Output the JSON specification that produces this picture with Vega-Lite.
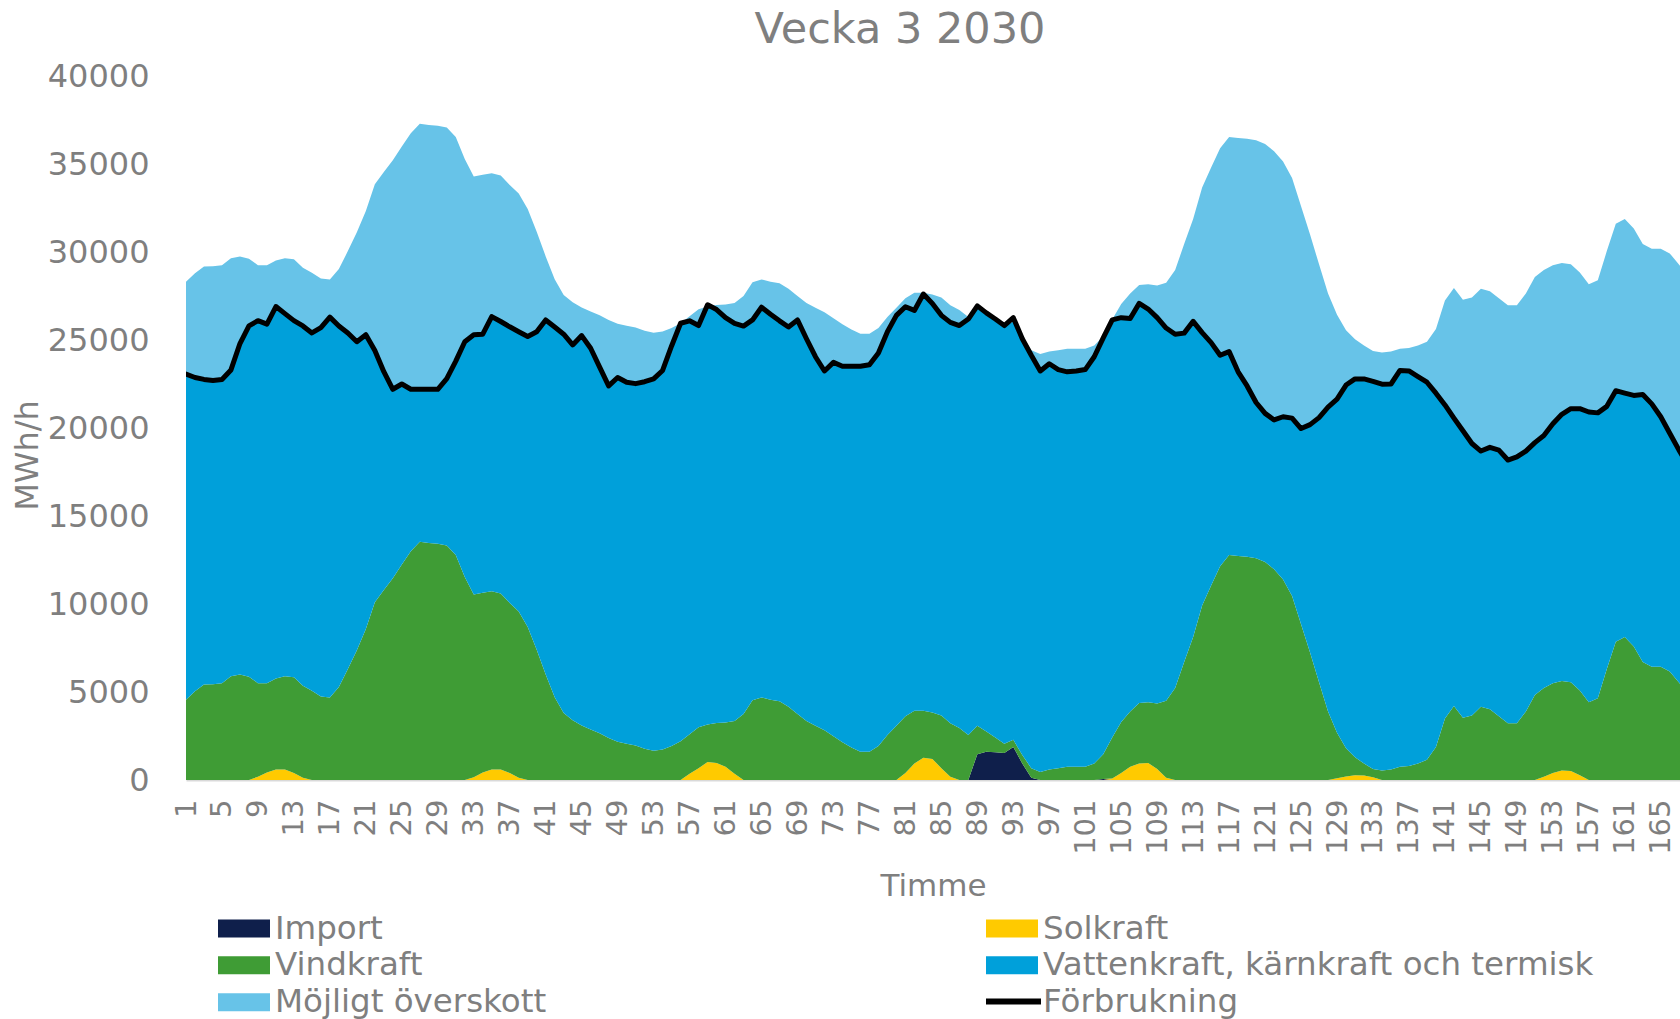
{
  "$schema": "https://vega.github.io/schema/vega-lite/v6.json",
  "autosize": {"type": "none"},
  "padding": {"left": 186, "top": 76, "right": 0, "bottom": 239},
  "width": 1494,
  "height": 704,
  "background": "white",
  "title": {"text": "Vecka 3 2030", "fontSize": 43, "font": "DejaVu Sans", "fontWeight": "normal", "color": "#7F7F7F", "anchor": "middle", "dx": -33, "offset": 8},
  "datasets": {
    "serier": [
      {"kod": "imp", "namn": "Import", "ordning": 1},
      {"kod": "sol", "namn": "Solkraft", "ordning": 2},
      {"kod": "vind", "namn": "Vindkraft", "ordning": 3},
      {"kod": "vatten", "namn": "Vattenkraft, kärnkraft och termisk", "ordning": 4},
      {"kod": "over", "namn": "Möjligt överskott", "ordning": 5}
    ],
    "timmar": [
      {"t":1,"imp":0,"sol":0,"vind":4560,"vatten":18500,"over":5250,"forb":23060},
      {"t":2,"imp":0,"sol":0,"vind":5040,"vatten":17830,"over":5920,"forb":22870},
      {"t":3,"imp":0,"sol":0,"vind":5420,"vatten":17340,"over":6410,"forb":22760},
      {"t":4,"imp":0,"sol":0,"vind":5440,"vatten":17260,"over":6490,"forb":22700},
      {"t":5,"imp":0,"sol":0,"vind":5500,"vatten":17260,"over":6490,"forb":22760},
      {"t":6,"imp":0,"sol":0,"vind":5900,"vatten":17400,"over":6350,"forb":23300},
      {"t":7,"imp":0,"sol":0,"vind":6000,"vatten":18800,"over":4950,"forb":24800},
      {"t":8,"imp":0,"sol":0,"vind":5870,"vatten":19930,"over":3820,"forb":25800},
      {"t":9,"imp":0,"sol":190,"vind":5310,"vatten":20600,"over":3150,"forb":26100},
      {"t":10,"imp":0,"sol":430,"vind":5070,"vatten":20400,"over":3350,"forb":25900},
      {"t":11,"imp":0,"sol":590,"vind":5170,"vatten":21140,"over":2610,"forb":26900},
      {"t":12,"imp":0,"sol":590,"vind":5310,"vatten":20600,"over":3150,"forb":26500},
      {"t":13,"imp":0,"sol":400,"vind":5440,"vatten":20260,"over":3490,"forb":26100},
      {"t":14,"imp":0,"sol":130,"vind":5230,"vatten":20440,"over":3310,"forb":25800},
      {"t":15,"imp":0,"sol":0,"vind":5070,"vatten":20330,"over":3420,"forb":25400},
      {"t":16,"imp":0,"sol":0,"vind":4750,"vatten":20950,"over":2800,"forb":25700},
      {"t":17,"imp":0,"sol":0,"vind":4690,"vatten":21610,"over":2140,"forb":26300},
      {"t":18,"imp":0,"sol":0,"vind":5280,"vatten":20520,"over":3230,"forb":25800},
      {"t":19,"imp":0,"sol":0,"vind":6300,"vatten":19100,"over":4650,"forb":25400},
      {"t":20,"imp":0,"sol":0,"vind":7370,"vatten":17530,"over":6220,"forb":24900},
      {"t":21,"imp":0,"sol":0,"vind":8580,"vatten":16720,"over":7030,"forb":25300},
      {"t":22,"imp":0,"sol":0,"vind":10100,"vatten":14300,"over":9450,"forb":24400},
      {"t":23,"imp":0,"sol":0,"vind":10800,"vatten":12400,"over":11350,"forb":23200},
      {"t":24,"imp":0,"sol":0,"vind":11470,"vatten":10730,"over":13020,"forb":22200},
      {"t":25,"imp":0,"sol":0,"vind":12250,"vatten":10250,"over":13500,"forb":22500},
      {"t":26,"imp":0,"sol":0,"vind":13000,"vatten":9200,"over":14550,"forb":22200},
      {"t":27,"imp":0,"sol":0,"vind":13540,"vatten":8660,"over":15090,"forb":22200},
      {"t":28,"imp":0,"sol":0,"vind":13460,"vatten":8740,"over":15010,"forb":22200},
      {"t":29,"imp":0,"sol":0,"vind":13430,"vatten":8770,"over":14980,"forb":22200},
      {"t":30,"imp":0,"sol":0,"vind":13320,"vatten":9480,"over":14270,"forb":22800},
      {"t":31,"imp":0,"sol":0,"vind":12790,"vatten":11010,"over":12740,"forb":23800},
      {"t":32,"imp":0,"sol":0,"vind":11530,"vatten":13370,"over":10380,"forb":24900},
      {"t":33,"imp":0,"sol":150,"vind":10390,"vatten":14760,"over":8990,"forb":25300},
      {"t":34,"imp":0,"sol":430,"vind":10210,"vatten":14690,"over":9060,"forb":25330},
      {"t":35,"imp":0,"sol":590,"vind":10130,"vatten":15610,"over":8140,"forb":26330},
      {"t":36,"imp":0,"sol":590,"vind":10000,"vatten":15460,"over":8290,"forb":26050},
      {"t":37,"imp":0,"sol":400,"vind":9650,"vatten":15700,"over":8050,"forb":25750},
      {"t":38,"imp":0,"sol":130,"vind":9440,"vatten":15900,"over":7850,"forb":25470},
      {"t":39,"imp":0,"sol":0,"vind":8700,"vatten":16500,"over":7250,"forb":25200},
      {"t":40,"imp":0,"sol":0,"vind":7400,"vatten":18070,"over":5680,"forb":25470},
      {"t":41,"imp":0,"sol":0,"vind":6000,"vatten":20140,"over":3610,"forb":26140},
      {"t":42,"imp":0,"sol":0,"vind":4700,"vatten":21040,"over":2710,"forb":25740},
      {"t":43,"imp":0,"sol":0,"vind":3800,"vatten":21530,"over":2220,"forb":25330},
      {"t":44,"imp":0,"sol":0,"vind":3400,"vatten":21320,"over":2430,"forb":24720},
      {"t":45,"imp":0,"sol":0,"vind":3100,"vatten":22150,"over":1600,"forb":25250},
      {"t":46,"imp":0,"sol":0,"vind":2870,"vatten":21660,"over":2090,"forb":24530},
      {"t":47,"imp":0,"sol":0,"vind":2650,"vatten":20810,"over":2940,"forb":23460},
      {"t":48,"imp":0,"sol":0,"vind":2390,"vatten":20000,"over":3750,"forb":22390},
      {"t":49,"imp":0,"sol":0,"vind":2170,"vatten":20700,"over":3050,"forb":22870},
      {"t":50,"imp":0,"sol":0,"vind":2060,"vatten":20540,"over":3210,"forb":22600},
      {"t":51,"imp":0,"sol":0,"vind":1960,"vatten":20560,"over":3190,"forb":22520},
      {"t":52,"imp":0,"sol":0,"vind":1770,"vatten":20860,"over":2890,"forb":22630},
      {"t":53,"imp":0,"sol":0,"vind":1660,"vatten":21130,"over":2620,"forb":22790},
      {"t":54,"imp":0,"sol":0,"vind":1740,"vatten":21530,"over":2220,"forb":23270},
      {"t":55,"imp":0,"sol":0,"vind":1930,"vatten":22730,"over":1020,"forb":24660},
      {"t":56,"imp":0,"sol":0,"vind":2200,"vatten":23750,"over":0,"forb":25950},
      {"t":57,"imp":0,"sol":350,"vind":2250,"vatten":23490,"over":260,"forb":26090},
      {"t":58,"imp":0,"sol":670,"vind":2330,"vatten":22820,"over":930,"forb":25820},
      {"t":59,"imp":0,"sol":1020,"vind":2140,"vatten":23750,"over":0,"forb":27000},
      {"t":60,"imp":0,"sol":970,"vind":2270,"vatten":23490,"over":260,"forb":26730},
      {"t":61,"imp":0,"sol":750,"vind":2520,"vatten":23000,"over":750,"forb":26270},
      {"t":62,"imp":0,"sol":350,"vind":3000,"vatten":22600,"over":1150,"forb":25950},
      {"t":63,"imp":0,"sol":0,"vind":3750,"vatten":22040,"over":1710,"forb":25790},
      {"t":64,"imp":0,"sol":0,"vind":4530,"vatten":21610,"over":2140,"forb":26140},
      {"t":65,"imp":0,"sol":0,"vind":4690,"vatten":22170,"over":1580,"forb":26860},
      {"t":66,"imp":0,"sol":0,"vind":4560,"vatten":21900,"over":1850,"forb":26460},
      {"t":67,"imp":0,"sol":0,"vind":4480,"vatten":21610,"over":2140,"forb":26090},
      {"t":68,"imp":0,"sol":0,"vind":4160,"vatten":21580,"over":2170,"forb":25740},
      {"t":69,"imp":0,"sol":0,"vind":3750,"vatten":22390,"over":1360,"forb":26140},
      {"t":70,"imp":0,"sol":0,"vind":3350,"vatten":21720,"over":2030,"forb":25070},
      {"t":71,"imp":0,"sol":0,"vind":3080,"vatten":20970,"over":2780,"forb":24050},
      {"t":72,"imp":0,"sol":0,"vind":2820,"vatten":20420,"over":3330,"forb":23240},
      {"t":73,"imp":0,"sol":0,"vind":2490,"vatten":21240,"over":2510,"forb":23730},
      {"t":74,"imp":0,"sol":0,"vind":2140,"vatten":21370,"over":2380,"forb":23510},
      {"t":75,"imp":0,"sol":0,"vind":1850,"vatten":21660,"over":2090,"forb":23510},
      {"t":76,"imp":0,"sol":0,"vind":1610,"vatten":21900,"over":1850,"forb":23510},
      {"t":77,"imp":0,"sol":0,"vind":1610,"vatten":21980,"over":1770,"forb":23590},
      {"t":78,"imp":0,"sol":0,"vind":1930,"vatten":22330,"over":1420,"forb":24260},
      {"t":79,"imp":0,"sol":0,"vind":2550,"vatten":22920,"over":830,"forb":25470},
      {"t":80,"imp":0,"sol":0,"vind":3080,"vatten":23320,"over":430,"forb":26400},
      {"t":81,"imp":0,"sol":400,"vind":3220,"vatten":23270,"over":480,"forb":26890},
      {"t":82,"imp":0,"sol":940,"vind":3000,"vatten":22740,"over":1010,"forb":26680},
      {"t":83,"imp":0,"sol":1260,"vind":2680,"vatten":23670,"over":80,"forb":27610},
      {"t":84,"imp":0,"sol":1200,"vind":2630,"vatten":23250,"over":500,"forb":27080},
      {"t":85,"imp":0,"sol":670,"vind":3000,"vatten":22730,"over":1020,"forb":26400},
      {"t":86,"imp":0,"sol":190,"vind":3030,"vatten":22780,"over":970,"forb":26000},
      {"t":87,"imp":0,"sol":0,"vind":2950,"vatten":22870,"over":880,"forb":25820},
      {"t":88,"imp":0,"sol":0,"vind":2550,"vatten":23640,"over":110,"forb":26190},
      {"t":89,"imp":1470,"sol":0,"vind":1610,"vatten":23750,"over":0,"forb":26940},
      {"t":90,"imp":1600,"sol":0,"vind":1160,"vatten":23750,"over":0,"forb":26540},
      {"t":91,"imp":1580,"sol":0,"vind":830,"vatten":23750,"over":0,"forb":26190},
      {"t":92,"imp":1530,"sol":0,"vind":530,"vatten":23750,"over":0,"forb":25820},
      {"t":93,"imp":1880,"sol":0,"vind":400,"vatten":23750,"over":0,"forb":26270},
      {"t":94,"imp":940,"sol":0,"vind":480,"vatten":23650,"over":100,"forb":25070},
      {"t":95,"imp":130,"sol":0,"vind":540,"vatten":23460,"over":290,"forb":24130},
      {"t":96,"imp":0,"sol":0,"vind":460,"vatten":22780,"over":970,"forb":23240},
      {"t":97,"imp":0,"sol":0,"vind":590,"vatten":23060,"over":690,"forb":23650},
      {"t":98,"imp":0,"sol":0,"vind":670,"vatten":22650,"over":1100,"forb":23320},
      {"t":99,"imp":0,"sol":0,"vind":750,"vatten":22440,"over":1310,"forb":23190},
      {"t":100,"imp":0,"sol":0,"vind":750,"vatten":22490,"over":1260,"forb":23240},
      {"t":101,"imp":0,"sol":0,"vind":750,"vatten":22570,"over":1180,"forb":23320},
      {"t":102,"imp":0,"sol":0,"vind":940,"vatten":23110,"over":640,"forb":24050},
      {"t":103,"imp":60,"sol":0,"vind":1410,"vatten":23650,"over":100,"forb":25120},
      {"t":104,"imp":0,"sol":80,"vind":2330,"vatten":23730,"over":20,"forb":26140},
      {"t":105,"imp":0,"sol":400,"vind":2900,"vatten":22970,"over":780,"forb":26270},
      {"t":106,"imp":0,"sol":750,"vind":3140,"vatten":22330,"over":1420,"forb":26220},
      {"t":107,"imp":0,"sol":940,"vind":3430,"vatten":22710,"over":1040,"forb":27080},
      {"t":108,"imp":0,"sol":970,"vind":3450,"vatten":22340,"over":1410,"forb":26760},
      {"t":109,"imp":0,"sol":620,"vind":3720,"vatten":21930,"over":1820,"forb":26270},
      {"t":110,"imp":0,"sol":130,"vind":4370,"vatten":21180,"over":2570,"forb":25680},
      {"t":111,"imp":0,"sol":0,"vind":5230,"vatten":20100,"over":3650,"forb":25330},
      {"t":112,"imp":0,"sol":0,"vind":6700,"vatten":18690,"over":5060,"forb":25390},
      {"t":113,"imp":0,"sol":0,"vind":8120,"vatten":17940,"over":5810,"forb":26060},
      {"t":114,"imp":0,"sol":0,"vind":9920,"vatten":15500,"over":8250,"forb":25420},
      {"t":115,"imp":0,"sol":0,"vind":11050,"vatten":13800,"over":9950,"forb":24850},
      {"t":116,"imp":0,"sol":0,"vind":12140,"vatten":11990,"over":11760,"forb":24130},
      {"t":117,"imp":0,"sol":0,"vind":12790,"vatten":11550,"over":12200,"forb":24340},
      {"t":118,"imp":0,"sol":0,"vind":12730,"vatten":10460,"over":13290,"forb":23190},
      {"t":119,"imp":0,"sol":0,"vind":12680,"vatten":9710,"over":14040,"forb":22390},
      {"t":120,"imp":0,"sol":0,"vind":12600,"vatten":8850,"over":14900,"forb":21450},
      {"t":121,"imp":0,"sol":0,"vind":12390,"vatten":8440,"over":15310,"forb":20830},
      {"t":122,"imp":0,"sol":0,"vind":11980,"vatten":8480,"over":15270,"forb":20460},
      {"t":123,"imp":0,"sol":0,"vind":11390,"vatten":9250,"over":14500,"forb":20640},
      {"t":124,"imp":0,"sol":0,"vind":10460,"vatten":10100,"over":13650,"forb":20560},
      {"t":125,"imp":0,"sol":0,"vind":8850,"vatten":11120,"over":12630,"forb":19970},
      {"t":126,"imp":0,"sol":0,"vind":7240,"vatten":12950,"over":10800,"forb":20190},
      {"t":127,"imp":0,"sol":0,"vind":5550,"vatten":15040,"over":8710,"forb":20590},
      {"t":128,"imp":0,"sol":0,"vind":3890,"vatten":17290,"over":6460,"forb":21180},
      {"t":129,"imp":0,"sol":100,"vind":2580,"vatten":18960,"over":4790,"forb":21640},
      {"t":130,"imp":0,"sol":200,"vind":1600,"vatten":20640,"over":3110,"forb":22440},
      {"t":131,"imp":0,"sol":270,"vind":1020,"vatten":21500,"over":2250,"forb":22790},
      {"t":132,"imp":0,"sol":250,"vind":690,"vatten":21850,"over":1900,"forb":22790},
      {"t":133,"imp":0,"sol":150,"vind":470,"vatten":22030,"over":1720,"forb":22650},
      {"t":134,"imp":0,"sol":0,"vind":540,"vatten":21950,"over":1800,"forb":22490},
      {"t":135,"imp":0,"sol":0,"vind":600,"vatten":21900,"over":1850,"forb":22500},
      {"t":136,"imp":0,"sol":0,"vind":750,"vatten":22520,"over":1230,"forb":23270},
      {"t":137,"imp":0,"sol":0,"vind":800,"vatten":22440,"over":1310,"forb":23240},
      {"t":138,"imp":0,"sol":0,"vind":940,"vatten":21980,"over":1770,"forb":22920},
      {"t":139,"imp":0,"sol":0,"vind":1150,"vatten":21450,"over":2300,"forb":22600},
      {"t":140,"imp":0,"sol":0,"vind":1880,"vatten":20100,"over":3650,"forb":21980},
      {"t":141,"imp":0,"sol":0,"vind":3490,"vatten":17820,"over":5930,"forb":21310},
      {"t":142,"imp":0,"sol":0,"vind":4210,"vatten":16350,"over":7400,"forb":20560},
      {"t":143,"imp":0,"sol":0,"vind":3540,"vatten":16300,"over":7450,"forb":19840},
      {"t":144,"imp":0,"sol":0,"vind":3670,"vatten":15450,"over":8300,"forb":19120},
      {"t":145,"imp":0,"sol":0,"vind":4160,"vatten":14530,"over":9220,"forb":18690},
      {"t":146,"imp":0,"sol":0,"vind":4020,"vatten":14880,"over":8870,"forb":18900},
      {"t":147,"imp":0,"sol":0,"vind":3620,"vatten":15120,"over":8630,"forb":18740},
      {"t":148,"imp":0,"sol":0,"vind":3220,"vatten":14960,"over":8790,"forb":18180},
      {"t":149,"imp":0,"sol":0,"vind":3220,"vatten":15140,"over":8610,"forb":18360},
      {"t":150,"imp":0,"sol":0,"vind":3890,"vatten":14800,"over":8950,"forb":18690},
      {"t":151,"imp":0,"sol":0,"vind":4830,"vatten":14340,"over":9410,"forb":19170},
      {"t":152,"imp":0,"sol":190,"vind":5040,"vatten":14340,"over":9410,"forb":19570},
      {"t":153,"imp":0,"sol":400,"vind":5100,"vatten":14740,"over":9010,"forb":20240},
      {"t":154,"imp":0,"sol":540,"vind":5090,"vatten":15150,"over":8600,"forb":20780},
      {"t":155,"imp":0,"sol":510,"vind":5040,"vatten":15550,"over":8200,"forb":21100},
      {"t":156,"imp":0,"sol":270,"vind":4820,"vatten":16010,"over":7740,"forb":21100},
      {"t":157,"imp":0,"sol":0,"vind":4420,"vatten":16490,"over":7260,"forb":20910},
      {"t":158,"imp":0,"sol":0,"vind":4640,"vatten":16220,"over":7530,"forb":20860},
      {"t":159,"imp":0,"sol":0,"vind":6300,"vatten":14930,"over":8820,"forb":21230},
      {"t":160,"imp":0,"sol":0,"vind":7860,"vatten":14260,"over":9490,"forb":22120},
      {"t":161,"imp":0,"sol":0,"vind":8120,"vatten":13860,"over":9890,"forb":21980},
      {"t":162,"imp":0,"sol":0,"vind":7590,"vatten":14260,"over":9490,"forb":21850},
      {"t":163,"imp":0,"sol":0,"vind":6700,"vatten":15200,"over":8550,"forb":21900},
      {"t":164,"imp":0,"sol":0,"vind":6430,"vatten":14940,"over":8810,"forb":21370},
      {"t":165,"imp":0,"sol":0,"vind":6430,"vatten":14210,"over":9540,"forb":20640},
      {"t":166,"imp":0,"sol":0,"vind":6170,"vatten":13530,"over":10220,"forb":19700},
      {"t":167,"imp":0,"sol":0,"vind":5550,"vatten":13220,"over":10530,"forb":18770},
      {"t":168,"imp":0,"sol":0,"vind":5000,"vatten":12900,"over":10850,"forb":17900}
    ]
  },
  "data": {"name": "timmar"},
  "encoding": {
    "x": {
      "field": "t",
      "type": "quantitative",
      "scale": {"domain": [1, 167.14], "nice": false, "zero": false},
      "axis": {
        "values": [1,5,9,13,17,21,25,29,33,37,41,45,49,53,57,61,65,69,73,77,81,85,89,93,97,101,105,109,113,117,121,125,129,133,137,141,145,149,153,157,161,165],
        "format": "d",
        "labelAngle": -90,
        "labelFontSize": 29,
        "labelPadding": 19,
        "labelFlush": false,
        "labelOverlap": false,
        "ticks": false,
        "grid": false,
        "domainColor": "#D9D9D9",
        "domainWidth": 2,
        "title": "Timme",
        "titleFontSize": 31,
        "titleBaseline": "alphabetic",
        "titleY": 115
      }
    }
  },
  "layer": [
    {
      "transform": [
        {"fold": ["imp", "sol", "vind", "vatten", "over"], "as": ["kod", "MWh"]},
        {"lookup": "kod", "from": {"data": {"name": "serier"}, "key": "kod", "fields": ["namn", "ordning"]}}
      ],
      "mark": {"type": "area", "clip": true},
      "encoding": {
        "y": {
          "field": "MWh",
          "type": "quantitative",
          "stack": "zero",
          "scale": {"domain": [0, 40000], "nice": false},
          "axis": {
            "values": [0,5000,10000,15000,20000,25000,30000,35000,40000],
            "format": "d",
            "labelFontSize": 32,
            "labelPadding": 37,
            "labelFlush": false,
            "ticks": false,
            "grid": false,
            "domain": false,
            "title": "MWh/h",
            "titleFontSize": 32,
            "titleBaseline": "middle",
            "titleX": -159,
            "titleY": 379
          }
        },
        "fill": {
          "field": "namn",
          "type": "nominal",
          "scale": {
            "domain": ["Import", "Vindkraft", "Möjligt överskott", "Solkraft", "Vattenkraft, kärnkraft och termisk"],
            "range": ["#0F1F4B", "#3F9C35", "#67C3E8", "#FFCA00", "#00A0DA"]
          },
          "legend": {
            "title": null,
            "orient": "none",
            "direction": "vertical",
            "legendX": 32,
            "legendY": 834,
            "columns": 2,
            "columnPadding": 439,
            "rowPadding": 0,
            "clipHeight": 36.5,
            "padding": 0,
            "symbolType": "M-1,-0.346H1V0.346H-1Z",
            "symbolSize": 2704,
            "symbolStrokeWidth": 0,
            "symbolOpacity": 1,
            "labelOffset": 5,
            "labelFontSize": 32.5,
            "labelLimit": 1000
          }
        },
        "order": {"field": "ordning", "type": "quantitative", "sort": "ascending"}
      }
    },
    {
      "mark": {"type": "line", "clip": true, "strokeWidth": 5, "strokeJoin": "round", "strokeCap": "round"},
      "encoding": {
        "y": {
          "field": "forb",
          "type": "quantitative",
          "scale": {"domain": [0, 40000], "nice": false},
          "axis": {
            "values": [0,5000,10000,15000,20000,25000,30000,35000,40000],
            "format": "d",
            "labelFontSize": 32,
            "labelPadding": 37,
            "labelFlush": false,
            "ticks": false,
            "grid": false,
            "domain": false,
            "title": "MWh/h",
            "titleFontSize": 32,
            "titleBaseline": "middle",
            "titleX": -159,
            "titleY": 379
          }
        },
        "stroke": {
          "datum": "Förbrukning",
          "type": "nominal",
          "scale": {"range": ["#000000"]},
          "legend": {
            "title": null,
            "orient": "none",
            "legendX": 797,
            "legendY": 895,
            "padding": 0,
            "symbolType": "stroke",
            "symbolSize": 3025,
            "symbolStrokeWidth": 6,
            "labelOffset": -1,
            "labelFontSize": 32.5,
            "labelLimit": 1000,
            "symbolStrokeColor": "#000000"
          }
        }
      }
    }
  ],
  "config": {
    "font": "DejaVu Sans",
    "view": {"stroke": null},
    "axis": {"labelFont": "DejaVu Sans", "titleFont": "DejaVu Sans", "labelColor": "#7F7F7F", "titleColor": "#7F7F7F", "titleFontWeight": "normal"},
    "legend": {"labelFont": "DejaVu Sans", "labelColor": "#7F7F7F"}
  }
}
